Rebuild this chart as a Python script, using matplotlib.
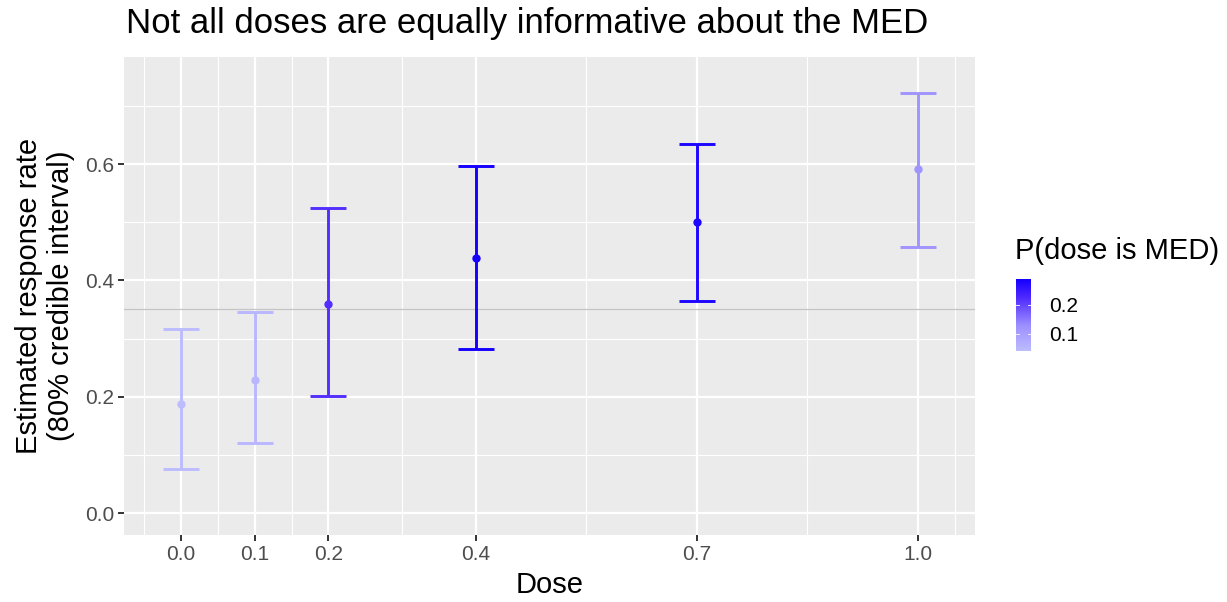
import matplotlib
matplotlib.use("Agg")
import matplotlib.pyplot as plt
from matplotlib.colors import LinearSegmentedColormap, Normalize
from matplotlib.colorbar import ColorbarBase
import numpy as np

plt.rcParams['font.family'] = ['Liberation Sans', 'DejaVu Sans']

# Posterior summaries per dose
doses = [0.0, 0.1, 0.2, 0.4, 0.7, 1.0]
dose_labels = ['0.0', '0.1', '0.2', '0.4', '0.7', '1.0']
resp_mean = [0.188, 0.228, 0.359, 0.438, 0.501, 0.591]
resp_lower = [0.075, 0.121, 0.201, 0.282, 0.365, 0.457]
resp_upper = [0.317, 0.345, 0.524, 0.597, 0.635, 0.722]
p_med = [0.04, 0.05, 0.22, 0.29, 0.28, 0.12]
target_rate = 0.35

# light lavender -> blue, roughly like a Lab gradient
cmap = LinearSegmentedColormap.from_list(
    'med', [(0.0, '#bcbcff'), (0.35, '#9d90ff'), (0.75, '#4d27ff'), (1.0, '#1400ff')])
norm = Normalize(vmin=min(p_med), vmax=max(p_med))

W, H = 1227, 602
fig = plt.figure(figsize=(W / 100, H / 100), dpi=100)
ax = fig.add_axes([124 / W, 1 - 535 / H, (975 - 124) / W, (535 - 57) / H])
ax.set_facecolor('#EBEBEB')

# grid: major at breaks, minor halfway
xmaj = np.array(doses)
xmin_lines = [-0.05, 0.05, 0.15, 0.3, 0.55, 0.85, 1.05]
ymaj = [0.0, 0.2, 0.4, 0.6]
ymin_lines = [0.1, 0.3, 0.5, 0.7]
for x in xmin_lines:
    ax.axvline(x, color='white', lw=0.8, zorder=0)
for y in ymin_lines:
    ax.axhline(y, color='white', lw=0.8, zorder=0)
for x in xmaj:
    ax.axvline(x, color='white', lw=1.6, zorder=0)
for y in ymaj:
    ax.axhline(y, color='white', lw=1.6, zorder=0)

ax.axhline(target_rate, color='#c4c4c4', lw=0.9, zorder=1)

for d, m, lo, hi, p in zip(doses, resp_mean, resp_lower, resp_upper, p_med):
    c = cmap(norm(p))
    ax.errorbar(d, m, yerr=[[m - lo], [hi - m]], fmt='o', color=c,
                ms=5, elinewidth=2.1, capsize=13.3, capthick=2.1, zorder=3)

ax.set_xlim(-0.0775, 1.0775)
ax.set_ylim(-0.0378, 0.784)
ax.set_xticks(doses)
ax.set_xticklabels(dose_labels)
ax.set_yticks(ymaj)
ax.set_yticklabels(['0.0', '0.2', '0.4', '0.6'])
ax.tick_params(length=4.5, width=1.4, color='#333333', labelcolor='#4D4D4D',
               labelsize=15, pad=2.5)
for s in ax.spines.values():
    s.set_visible(False)

ax.set_xlabel('Dose', fontsize=21)
ax.xaxis.set_label_coords(0.5, -0.075)
ax.set_ylabel('Estimated response rate\n(80% credible interval)', fontsize=21,
              linespacing=1.15)
ax.yaxis.set_label_coords(-0.058, 0.5)
fig.text(126 / W, 1 - 33 / H, 'Not all doses are equally informative about the MED',
         fontsize=25, ha='left', va='baseline')

# colour legend
fig.text(1015 / W, 1 - 251 / H, 'P(dose is MED)', fontsize=21, ha='left', va='center')
cax = fig.add_axes([1016 / W, 1 - 351 / H, 15 / W, 72 / H])
cb = ColorbarBase(cax, cmap=cmap, norm=norm, orientation='vertical')
cb.outline.set_visible(False)
cb.set_ticks([0.1, 0.2])
cb.set_ticklabels(['0.1', '0.2'])
cax.tick_params(length=0, labelsize=15, labelcolor='black', pad=13)
for t in [0.1, 0.2]:
    cax.plot([0, 0.2], [t, t], color='white', lw=0.6, transform=cax.get_yaxis_transform())
    cax.plot([0.8, 1.0], [t, t], color='white', lw=0.6, transform=cax.get_yaxis_transform())

fig.savefig('out.png', dpi=100, facecolor='white')
